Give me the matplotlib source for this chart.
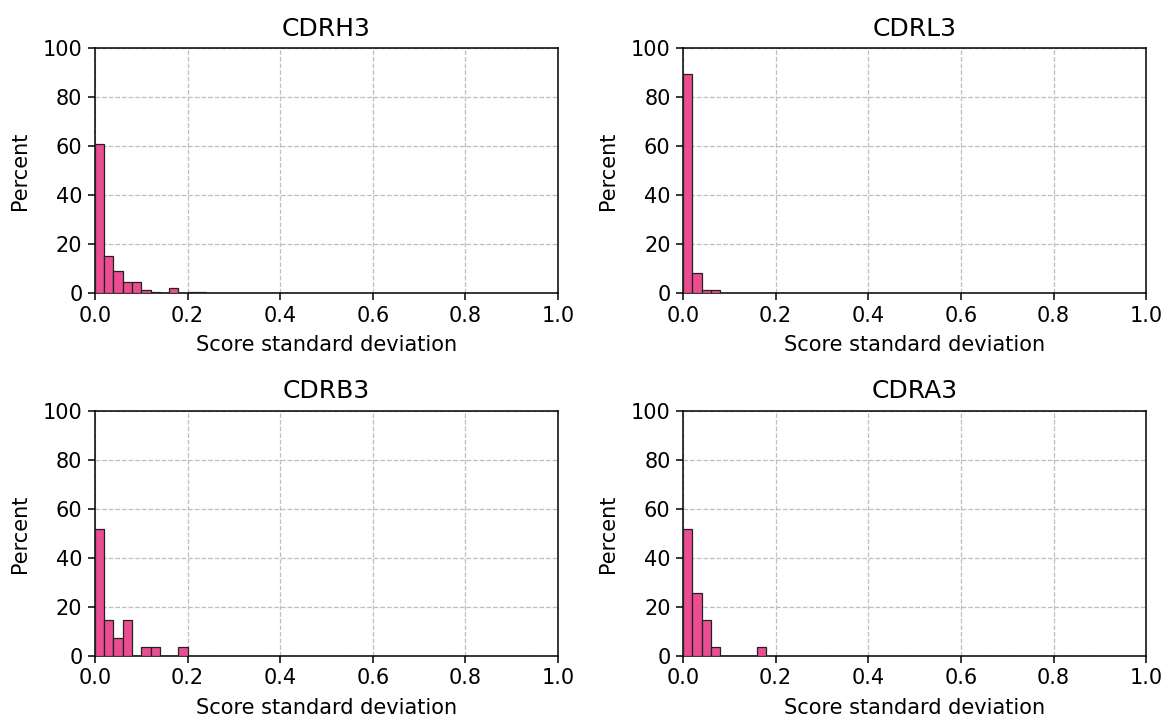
import matplotlib
matplotlib.use("Agg")
import matplotlib.pyplot as plt
import numpy as np

titles = ["CDRH3", "CDRL3", "CDRB3", "CDRA3"]
bin_width = 0.02
# percent per bin, bins starting at 0.00, 0.02, 0.04, ...
cdrh3 = [61.0, 15.1, 9.0, 4.5, 4.5, 1.2, 0.4, 0.0, 1.9, 0.0, 0.4, 0.4]
cdrl3 = [89.2, 8.2, 1.1, 1.1]
cdrb3 = [51.9, 14.8, 7.4, 14.8, 0.0, 3.7, 3.7, 0.0, 0.0, 3.7]
cdra3 = [51.9, 25.9, 14.8, 3.7, 0.0, 0.0, 0.0, 0.0, 3.7]
series = [cdrh3, cdrl3, cdrb3, cdra3]

xticks = [0.0, 0.2, 0.4, 0.6, 0.8, 1.0]
yticks = [0, 20, 40, 60, 80, 100]

fig = plt.figure(figsize=(11.65, 7.18), dpi=100)
positions = [
    [0.0815, 0.5919, 0.3975, 0.3412],
    [0.5863, 0.5919, 0.3975, 0.3412],
    [0.0815, 0.0864, 0.3975, 0.3412],
    [0.5863, 0.0864, 0.3975, 0.3412],
]
fs = 15.0
for pos, title, vals in zip(positions, titles, series):
    ax = fig.add_axes(pos)
    edges = np.arange(len(vals)) * bin_width
    ax.bar(edges, vals, width=bin_width, align="edge", color="#ea4d92",
           edgecolor="#222222", linewidth=0.9, zorder=3)
    ax.set_xlim(0, 1)
    ax.set_ylim(0, 100)
    ax.set_xticks(xticks)
    ax.set_yticks(yticks)
    ax.set_xticklabels([f"{t:.1f}" for t in xticks])
    ax.tick_params(labelsize=fs, length=5, width=1.1, pad=4)
    ax.grid(True, linestyle="--", color="#bfbfbf", linewidth=0.9, zorder=0)
    ax.set_axisbelow(True)
    ax.set_title(title, fontsize=18, pad=9)
    ax.set_xlabel("Score standard deviation", fontsize=fs, labelpad=7)
    ax.set_ylabel("Percent", fontsize=fs, labelpad=9)
    for s in ax.spines.values():
        s.set_linewidth(1.1)

fig.savefig("out.png", dpi=100)
